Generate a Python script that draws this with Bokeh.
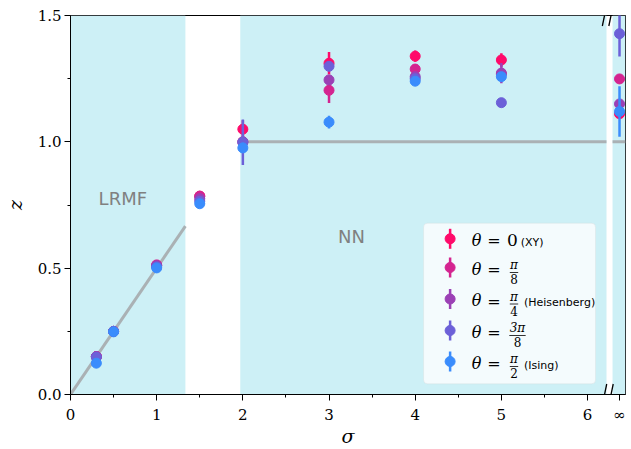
from bokeh.plotting import figure
from bokeh.models import Range1d, FixedTicker, BoxAnnotation, Arrow
from bokeh.embed import file_html
from bokeh.resources import INLINE
from bokeh.core.properties import value

# ---------------- data ----------------
sigma = [0.3, 0.5, 1.0, 1.5, 2.0, 3.0, 4.0, 5.0]
X_INF = 6.371                      # plotting position of sigma = infinity
theta_names = ["0", "π/8", "π/4", "3π/8", "π/2"]
colors = ["#ff0a6a", "#d42490", "#9b40b5", "#6c60d8", "#3a8cfc"]

z_xy    = [0.150, 0.250, 0.510, 0.785, 1.050, 1.311, 1.339, 1.324, 1.111]
z_pi8   = [0.150, 0.250, 0.513, 0.785, 1.000, 1.204, 1.288, 1.268, 1.249]
z_pi4   = [0.150, 0.250, 0.510, 0.775, 1.000, 1.245, 1.258, 1.272, 1.150]
z_3pi8  = [0.148, 0.250, 0.505, 0.765, 0.998, 1.299, 1.250, 1.155, 1.428]
z_ising = [0.124, 0.248, 0.501, 0.755, 0.976, 1.078, 1.240, 1.258, 1.120]

e_xy    = [0, 0, 0, 0, 0.035, 0.045, 0.022, 0.027, 0]
e_pi8   = [0, 0, 0, 0, 0, 0.050, 0, 0, 0]
e_pi4   = [0, 0, 0, 0, 0, 0, 0, 0.040, 0]
e_3pi8  = [0, 0, 0, 0, 0.090, 0, 0, 0, 0.090]
e_ising = [0, 0, 0, 0, 0.020, 0.025, 0, 0, 0.100]

series_z = [z_xy, z_pi8, z_pi4, z_3pi8, z_ising]
series_e = [e_xy, e_pi8, e_pi4, e_3pi8, e_ising]

# theory / regions
lrmf_sigma = [0.0, 4.0 / 3.0]
lrmf_z = [0.0, 2.0 / 3.0]
nn_start = 2.0
nn_z = 1.0
lrmf_region = (0.0, 4.0 / 3.0)
nn_region = (1.97, 6.22)
inf_start = 6.29

x_ticks = [0, 1, 2, 3, 4, 5, 6]
x_minor = [0.5, 1.5, 2.5, 3.5, 4.5, 5.5]
y_ticks = [0.0, 0.5, 1.0, 1.5]
y_minor = [0.25, 0.75, 1.25]

# ---------------- layout geometry (canvas pixels) ----------------
W, H = 631, 449
FL, FR, FT, FB = 69, 625, 15, 394
PX_PER_UNIT = 86.33
X1 = (FR - FL) / PX_PER_UNIT
Y1 = 1.5


def dx(px):
    return (px - FL) / (FR - FL) * X1


def dy(py):
    return (FB - py) / (FB - FT) * Y1


SANS = "DejaVu Sans"
SERIF = "DejaVu Serif"

p = figure(width=W, height=H, output_backend="svg", toolbar_location=None,
           x_range=Range1d(0, X1), y_range=Range1d(0, Y1),
           min_border_left=FL, min_border_right=W - FR,
           min_border_top=FT, min_border_bottom=H - FB)
p.grid.visible = False
p.background_fill_color = "white"
p.border_fill_color = "white"
p.outline_line_color = "black"
p.outline_line_width = 1

shade = "#cdf0f6"
p.quad(left=[lrmf_region[0], nn_region[0], inf_start],
       right=[lrmf_region[1], nn_region[1], X1],
       bottom=0, top=Y1, fill_color=shade, line_color=None)

line_c = "#aab1b4"
p.line(lrmf_sigma, lrmf_z, line_color=line_c, line_width=3)
p.line([nn_start, nn_region[1]], [nn_z, nn_z], line_color=line_c, line_width=3)
p.line([inf_start, X1], [nn_z, nn_z], line_color=line_c, line_width=3)

p.text(x=[0.607], y=[0.775], text=["LRMF"], text_font=value(SANS),
       text_font_size="18px", text_color="#808080", text_align="center",
       text_baseline="middle")
p.text(x=[3.26], y=[0.626], text=["NN"], text_font=value(SANS),
       text_font_size="18px", text_color="#808080", text_align="center",
       text_baseline="middle")

xs_all = sigma + [X_INF]
for z, e, c in zip(series_z, series_e, colors):
    bx = [x for x, ee in zip(xs_all, e) if ee > 0]
    b0 = [zz - ee for zz, ee in zip(z, e) if ee > 0]
    b1 = [zz + ee for zz, ee in zip(z, e) if ee > 0]
    if bx:
        p.segment(x0=bx, y0=b0, x1=bx, y1=b1, line_color=c, line_width=2.5)
    p.scatter(x=xs_all, y=z, size=10, fill_color=c, line_color=c)

# axes
p.xaxis.ticker = FixedTicker(ticks=x_ticks + [X_INF], minor_ticks=x_minor)
p.xaxis.major_label_overrides = {X_INF: "∞"}
p.yaxis.ticker = FixedTicker(ticks=y_ticks, minor_ticks=y_minor)
p.yaxis.major_label_overrides = {0.0: "0.0", 0.5: "0.5", 1.0: "1.0", 1.5: "1.5"}
for ax in (p.xaxis[0], p.yaxis[0]):
    ax.major_tick_in = 0
    ax.major_tick_out = 6
    ax.minor_tick_in = 0
    ax.minor_tick_out = 3
    ax.axis_line_color = "black"
    ax.major_tick_line_color = "black"
    ax.minor_tick_line_color = "black"
    ax.major_label_text_font = SERIF
    ax.major_label_text_font_size = "15px"
    ax.major_label_text_color = "black"
    ax.axis_label_text_font = SERIF
    ax.axis_label_text_font_style = "italic"
    ax.axis_label_text_font_size = "19px"
    ax.axis_label_text_color = "black"
p.xaxis.axis_label = "σ"
p.yaxis.axis_label = "z"
p.xaxis.major_label_standoff = 5
p.yaxis.major_label_standoff = 3
p.xaxis.axis_label_standoff = -2
p.yaxis.axis_label_standoff = 9

# axis break marks (inside part)
for cy in (FT, FB):
    for cx in (604.0, 610.5):
        p.add_layout(Arrow(end=None, x_start=dx(cx - 2.2), y_start=dy(cy + 10.5),
                           x_end=dx(cx + 2.2), y_end=dy(cy - 10.5),
                           line_color="black", line_width=1.3))

# ---------------- legend ----------------
p.add_layout(BoxAnnotation(left=dx(422.7), right=dx(595), top=dy(222.7), bottom=dy(383.3),
                           fill_color="#f4fbfd", fill_alpha=1.0, line_color="#d3d3d3",
                           line_width=1, border_radius=4))
rows = [238.3, 267.0, 298.5, 330.0, 361.0]
mx = 449.3
for r, c in zip(rows, colors):
    p.segment(x0=[dx(mx)], y0=[dy(r + 10)], x1=[dx(mx)], y1=[dy(r - 10)],
              line_color=c, line_width=2.5, level="overlay")
    p.scatter(x=[dx(mx)], y=[dy(r)], size=10, fill_color=c, line_color=c, level="overlay")

serif = value(SERIF)
sans = value(SANS)
p.text(x=[dx(471.0)] * 5, y=[dy(r + 1.5) for r in rows], text=["θ"] * 5,
       text_font=serif, text_font_style="italic", text_font_size="16px",
       text_align="left", text_baseline="middle", level="overlay")
p.text(x=[dx(493.3)] * 5, y=[dy(r + 2.0) for r in rows], text=["="] * 5,
       text_font=serif, text_font_size="16px",
       text_align="center", text_baseline="middle", level="overlay")
# row 1: 0 (XY)
p.text(x=[dx(511.7)], y=[dy(rows[0] + 1.0)], text=["0"], text_font=serif,
       text_font_size="17px", text_align="center", text_baseline="middle", level="overlay")
# fractions
fr_num = ["π", "π", "3π", "π"]
fr_den = ["8", "4", "8", "2"]
fr_cx = [513.3, 513.3, 516.8, 513.3]
fr_hw = [4.2, 4.2, 8.2, 4.2]
fr_rows = rows[1:]
p.text(x=[dx(c) for c in fr_cx], y=[dy(r - 2.5) for r in fr_rows], text=fr_num,
       text_font=serif, text_font_style="italic", text_font_size="12px",
       text_align="center", text_baseline="middle", level="overlay")
p.text(x=[dx(c) for c in fr_cx], y=[dy(r + 11.8) for r in fr_rows], text=fr_den,
       text_font=serif, text_font_size="12px",
       text_align="center", text_baseline="middle", level="overlay")
p.segment(x0=[dx(c - h) for c, h in zip(fr_cx, fr_hw)], y0=[dy(r + 5) for r in fr_rows],
          x1=[dx(c + h) for c, h in zip(fr_cx, fr_hw)], y1=[dy(r + 5) for r in fr_rows],
          line_color="black", line_width=0.8, level="overlay")
# small notes
p.text(x=[dx(520.0), dx(523.3), dx(523.3)],
       y=[dy(rows[0] + 3.5), dy(rows[2] + 3.5), dy(rows[4] + 3.5)],
       text=["(XY)", "(Heisenberg)", "(Ising)"], text_font=sans,
       text_font_size="11px", text_align="left", text_baseline="middle", level="overlay")

open("out.html", "w").write(file_html(p, INLINE))
